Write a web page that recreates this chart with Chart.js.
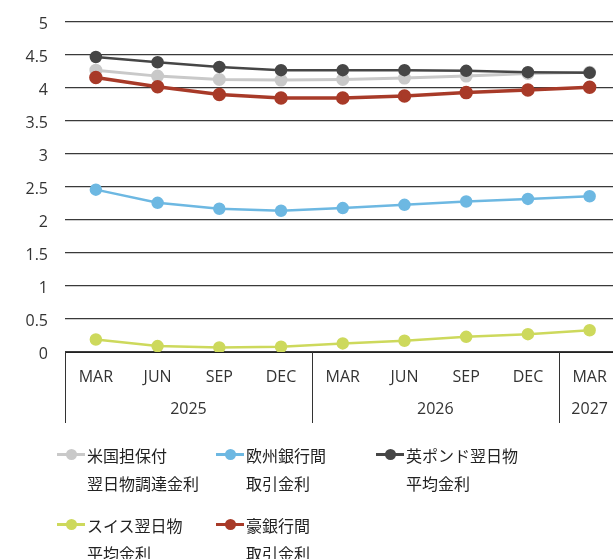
<!DOCTYPE html>
<html>
<head>
<meta charset="utf-8">
<script src="https://cdn.jsdelivr.net/npm/chart.js@4.4.1/dist/chart.umd.min.js"></script>
<style>
  body { margin: 0; background: #fff; }
  #wrap { position: relative; width: 613px; height: 559px; overflow: hidden; }
  #c { position: absolute; left: 0; top: 0; }
  #legend { position: absolute; left: 0; top: 0; width: 613px; height: 559px; pointer-events: none;
    font-family: "Noto Sans CJK JP", "Noto Sans", sans-serif; font-size: 16px; color: #222; }
  .item { position: absolute; }
  .item .mk { position: absolute; left: 0; top: 12px; width: 28px; height: 3px; }
  .item .mk i { position: absolute; left: 9px; top: -4px; width: 11px; height: 11px; border-radius: 50%; }
  .item .tx { position: absolute; left: 30px; top: 0; line-height: 28px; white-space: nowrap; }
</style>
</head>
<body>
<div id="wrap">
  <canvas id="c" width="629" height="426"></canvas>
  <div id="legend"></div>
</div>
<script>
const months = ['MAR', 'JUN', 'SEP', 'DEC', 'MAR', 'JUN', 'SEP', 'DEC', 'MAR'];
const years = ['2025', '2026', '2027'];
const yearGroups = [[0, 3], [4, 7], [8, 8]];

const names = [
  ['米国担保付', '翌日物調達金利'],
  ['欧州銀行間', '取引金利'],
  ['英ポンド翌日物', '平均金利'],
  ['スイス翌日物', '平均金利'],
  ['豪銀行間', '取引金利']
];
const colors = ['#c9c9c9', '#6db8e2', '#464646', '#cdd95c', '#a83a28'];
const widths = [3, 2.5, 2.5, 2.5, 3.5];

const sofr  = [4.27, 4.18, 4.13, 4.12, 4.13, 4.15, 4.18, 4.22, 4.24];
const estr  = [2.46, 2.26, 2.17, 2.14, 2.18, 2.23, 2.28, 2.32, 2.36];
const sonia = [4.47, 4.39, 4.32, 4.27, 4.27, 4.27, 4.26, 4.24, 4.23];
const saron = [0.19, 0.09, 0.07, 0.08, 0.13, 0.17, 0.23, 0.27, 0.33];
const bbsw  = [4.16, 4.02, 3.90, 3.85, 3.85, 3.88, 3.93, 3.97, 4.01];
const series = [sofr, estr, sonia, saron, bbsw];

const font = { family: '"Open Sans", "Noto Sans", sans-serif', size: 16 };

// 年の区切り線と年ラベル
const yearAxis = {
  id: 'yearAxis',
  afterDraw(chart) {
    const ctx = chart.ctx;
    const x = chart.scales.x;
    const top = chart.chartArea.bottom;
    const step = x.getPixelForValue(1) - x.getPixelForValue(0);
    ctx.save();
    ctx.strokeStyle = '#333';
    ctx.lineWidth = 1;
    ctx.beginPath();
    yearGroups.forEach(g => {
      const l = Math.round(x.getPixelForValue(g[0]) - step / 2) + 0.5;
      ctx.moveTo(l, top);
      ctx.lineTo(l, top + 71);
    });
    ctx.stroke();
    ctx.fillStyle = '#333';
    ctx.font = font.size + 'px ' + font.family;
    ctx.textAlign = 'center';
    ctx.textBaseline = 'middle';
    yearGroups.forEach((g, i) => {
      const cx = (x.getPixelForValue(g[0]) + x.getPixelForValue(g[1])) / 2;
      ctx.fillText(years[i], cx, top + 57);
    });
    ctx.restore();
  }
};

const chart = new Chart(document.getElementById('c'), {
  type: 'line',
  data: {
    labels: months,
    datasets: series.map((d, i) => ({
      label: names[i].join(''),
      data: d,
      order: series.length - i,
      borderColor: colors[i],
      backgroundColor: colors[i],
      borderWidth: widths[i],
      pointRadius: 5,
      pointHoverRadius: 5,
      tension: 0
    }))
  },
  options: {
    responsive: false,
    animation: false,
    layout: { padding: { top: 22, left: 0, right: 0, bottom: 0 } },
    plugins: { legend: { display: false }, tooltip: { enabled: false } },
    scales: {
      x: {
        offset: true,
        afterFit: s => { s.height = 74; },
        grid: { display: false },
        border: { color: '#222', width: 1 },
        ticks: { color: '#333', font: font, padding: 8, maxRotation: 0, autoSkip: false }
      },
      y: {
        min: 0,
        max: 5,
        afterFit: s => { s.width = 65; },
        grid: { color: '#3a3a3a', lineWidth: 1.2, drawTicks: true, tickLength: 12, tickColor: 'rgba(0,0,0,0)' },
        border: { display: false },
        ticks: { stepSize: 0.5, color: '#333', font: font, padding: 5, labelOffset: 2,
          callback: v => String(v) }
      }
    }
  },
  plugins: [yearAxis]
});

// 凡例
const legendPos = [[57, 441], [216, 441], [376, 441], [57, 511], [216, 511]];
const legend = document.getElementById('legend');
chart.data.datasets.forEach((ds, i) => {
  const el = document.createElement('div');
  el.className = 'item';
  el.style.left = legendPos[i][0] + 'px';
  el.style.top = legendPos[i][1] + 'px';
  el.innerHTML = '<div class="mk" style="background:' + ds.borderColor + '"><i style="background:' + ds.borderColor + '"></i></div>' +
    '<div class="tx">' + names[i].join('<br>') + '</div>';
  legend.appendChild(el);
});
</script>
</body>
</html>
